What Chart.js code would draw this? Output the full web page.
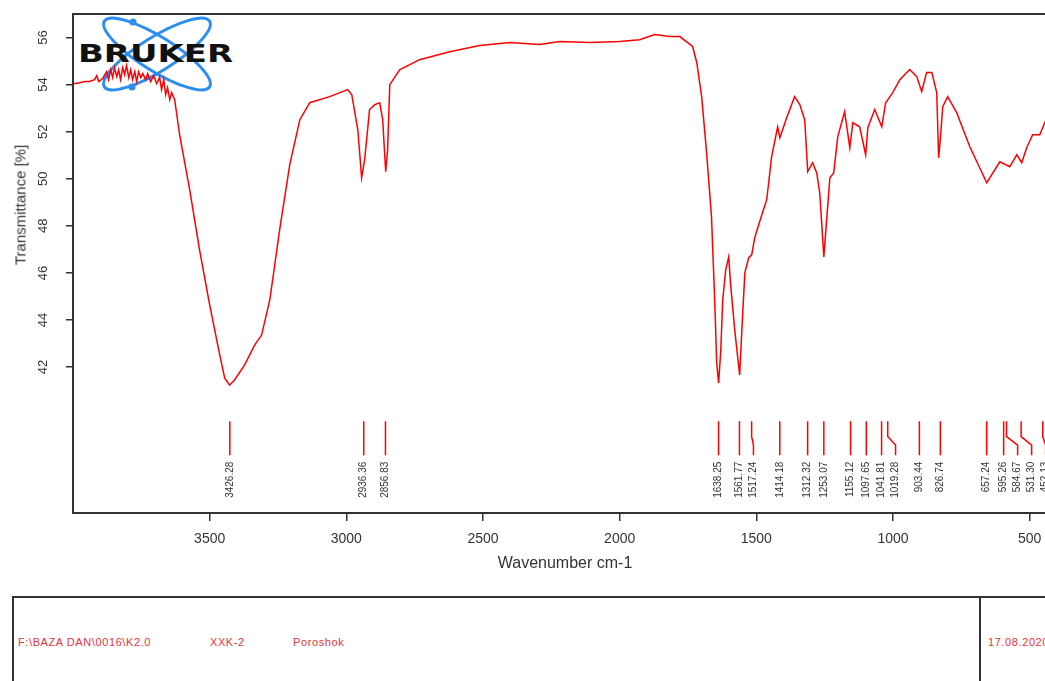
<!DOCTYPE html>
<html>
<head>
<meta charset="utf-8">
<script src="https://cdn.jsdelivr.net/npm/chart.js@4.4.1/dist/chart.umd.min.js"></script>
<style>
html, body { margin: 0; padding: 0; background: #fff; overflow: hidden; }
body { position: relative; width: 1045px; height: 681px; font-family: 'Liberation Sans', Arial, sans-serif; }
#logo { position: absolute; left: 0; top: 0; }
#wrap { position: absolute; left: 0; top: 0; width: 1160px; height: 590px; }
#ylabel { position: absolute; left: 20px; top: 205px; transform: translate(-50%, -50%) rotate(-90deg); white-space: nowrap; font-size: 15px; color: #333; }
#info { position: absolute; left: 12px; top: 596px; width: 1150px; height: 120px; border: 2px solid #333; box-sizing: border-box; }
#divider { position: absolute; left: 979px; top: 596px; height: 100px; border-left: 2px solid #333; }
.info-text { position: absolute; top: 636px; font-size: 11px; letter-spacing: 0.6px; color: #e8323c; white-space: nowrap; }
</style>
</head>
<body>
<svg id="logo" width="260" height="100">
  <g fill="none" stroke="#2b8ef0" stroke-width="3">
    <ellipse cx="157" cy="54" rx="62" ry="17" transform="rotate(32 157 54)"></ellipse>
    <ellipse cx="157" cy="54" rx="62" ry="17" transform="rotate(-32 157 54)"></ellipse>
  </g>
  <g fill="#2b8ef0">
    <circle cx="133" cy="22" r="3.5"></circle>
    <circle cx="132" cy="87" r="3.5"></circle>
  </g>
  <text x="78" y="62" font-family="DejaVu Sans" font-weight="bold" font-size="24" textLength="155" lengthAdjust="spacingAndGlyphs" fill="#111">BRUKER</text>
</svg>
<div id="wrap"><canvas id="chart" width="1160" height="590"></canvas></div>
<div id="ylabel">Transmittance [%]</div>
<div id="info"></div>
<div id="divider"></div>
<span class="info-text" style="left:18px">F:\BAZA DAN\0016\K2.0</span>
<span class="info-text" style="left:210px">XXK-2</span>
<span class="info-text" style="left:293px">Poroshok</span>
<span class="info-text" style="left:988px">17.08.2020</span>
<script>
// spectrum (wavenumber cm-1 / transmittance %)
const wavenumbers = [
  3998, 3976, 3957, 3939, 3921, 3913, 3906, 3892, 3877, 3870, 3862, 3855, 3848, 3840, 3833, 3826,
  3818, 3811, 3804, 3796, 3789, 3782, 3774, 3767, 3760, 3752, 3745, 3734, 3727, 3716, 3705, 3694,
  3683, 3676, 3668, 3661, 3654, 3646, 3639, 3628, 3610, 3573, 3537, 3500, 3463, 3445, 3427, 3409,
  3372, 3335, 3310, 3280, 3244, 3207, 3170, 3134, 3061, 2995, 2980, 2958, 2944, 2933, 2915, 2896,
  2878, 2867, 2856, 2849, 2841, 2805, 2732, 2622, 2512, 2402, 2293, 2219, 2110, 2000, 1927, 1872,
  1817, 1780, 1733, 1718, 1700, 1682, 1664, 1652, 1645, 1638, 1630, 1623, 1612, 1601, 1594, 1579,
  1561, 1553, 1542, 1528, 1517, 1506, 1488, 1462, 1444, 1422, 1414, 1389, 1360, 1341, 1323, 1312,
  1294, 1279, 1268, 1253, 1231, 1217, 1202, 1177, 1158, 1147, 1122, 1100, 1092, 1067, 1041, 1027,
  1001, 975, 939, 913, 895, 877, 858, 840, 833, 825, 818, 800, 767, 719, 657, 609,
  573, 547, 529, 511, 489, 463, 445, 420, 400
];
const transmittance = [
  54.04, 54.08, 54.13, 54.13, 54.21, 54.38, 54.13, 54.25, 54.55, 54.21, 54.63, 54.30, 54.72, 54.34, 54.63, 54.21,
  54.72, 54.42, 54.81, 54.30, 54.63, 54.21, 54.55, 54.13, 54.55, 54.30, 54.47, 54.21, 54.47, 54.13, 54.38, 54.04,
  54.30, 53.79, 54.21, 53.57, 53.87, 53.36, 53.66, 53.36, 51.87, 49.53, 46.98, 44.64, 42.51, 41.53, 41.23, 41.45,
  42.09, 42.94, 43.36, 44.85, 47.83, 50.60, 52.51, 53.23, 53.49, 53.79, 53.57, 52.08, 50.04, 50.81, 52.94, 53.15,
  53.23, 52.51, 50.30, 51.23, 54.00, 54.63, 55.06, 55.40, 55.66, 55.79, 55.70, 55.83, 55.79, 55.83, 55.91, 56.13,
  56.04, 56.04, 55.62, 54.94, 53.49, 51.11, 48.38, 44.72, 42.17, 41.32, 42.72, 44.85, 46.13, 46.68, 45.49, 43.57,
  41.66, 43.57, 46.00, 46.64, 46.77, 47.49, 48.17, 49.11, 50.94, 52.21, 51.74, 52.59, 53.49, 53.15, 52.51, 50.30,
  50.68, 50.25, 49.40, 46.68, 50.04, 50.25, 51.79, 52.85, 51.32, 52.38, 52.21, 51.02, 52.17, 52.94, 52.21, 53.23,
  53.66, 54.21, 54.64, 54.34, 53.70, 54.51, 54.51, 53.66, 50.89, 51.96, 53.06, 53.49, 52.81, 51.36, 49.83, 50.72,
  50.51, 51.02, 50.68, 51.32, 51.87, 51.87, 52.38, 52.90, 53.20
];
// picked peaks (cm-1)
const peakPositions = [
  3426.28, 2936.36, 2856.83, 1638.25, 1561.77, 1517.24, 1414.18, 1312.32, 1253.07, 1155.12,
  1097.65, 1041.81, 1019.28, 903.44, 826.74, 657.24, 595.26, 584.67, 531.30, 452.13
];
const xTickValues = [3500, 3000, 2500, 2000, 1500, 1000, 500];
const yTickValues = [42, 44, 46, 48, 50, 52, 54, 56];

const tickFont = { family: "'Liberation Sans', Arial, sans-serif", size: 14 };

// black frame round the plot area
const framePlugin = {
  id: 'frame',
  afterDraw(chart) {
    const { ctx, chartArea: a } = chart;
    ctx.save();
    ctx.strokeStyle = '#333';
    ctx.lineWidth = 2;
    ctx.strokeRect(a.left, a.top, a.right - a.left, a.bottom - a.top);
    ctx.restore();
  }
};

// red peak ticks with rotated labels under the spectrum
const peakPlugin = {
  id: 'peaks',
  afterDatasetsDraw(chart) {
    const { ctx } = chart;
    const xs = chart.scales.x, ys = chart.scales.y;
    const yTop = ys.getPixelForValue(39.7);
    const yBot = ys.getPixelForValue(38.25);
    const yLabel = ys.getPixelForValue(37.98);
    const yKink1 = yTop + (yBot - yTop) * 0.45;
    const yKink2 = yTop + (yBot - yTop) * 0.7;
    const minGap = 14;

    // left to right on screen
    const items = peakPositions.map(p => ({ p, x: xs.getPixelForValue(p) })).sort((a, b) => a.x - b.x);
    let last = -Infinity;
    items.forEach(it => {
      it.lx = Math.max(it.x, last + minGap);
      last = it.lx;
    });

    ctx.save();
    ctx.strokeStyle = '#ff0000';
    ctx.lineWidth = 1.5;
    items.forEach(it => {
      ctx.beginPath();
      ctx.moveTo(it.x, yTop);
      if (Math.abs(it.lx - it.x) > 0.5) {
        ctx.lineTo(it.x, yKink1);
        ctx.lineTo(it.lx, yKink2);
      }
      ctx.lineTo(it.lx, yBot);
      ctx.stroke();
    });
    ctx.fillStyle = '#333';
    ctx.font = "10px 'Liberation Sans', Arial, sans-serif";
    ctx.textAlign = 'right';
    ctx.textBaseline = 'middle';
    items.forEach(it => {
      ctx.save();
      ctx.translate(it.lx, yLabel);
      ctx.rotate(-Math.PI / 2);
      ctx.fillText(it.p.toFixed(2), 0, 0);
      ctx.restore();
    });
    ctx.restore();
  }
};

new Chart(document.getElementById('chart'), {
  type: 'line',
  data: {
    datasets: [{
      data: wavenumbers.map((w, i) => ({ x: w, y: transmittance[i] })),
      borderColor: '#ff0000',
      borderWidth: 1.5,
      pointRadius: 0,
      tension: 0,
      fill: false
    }]
  },
  options: {
    responsive: false,
    animation: false,
    events: [],
    layout: { padding: { top: 14, right: 103, left: 0, bottom: 0 } },
    plugins: { legend: { display: false }, tooltip: { enabled: false } },
    scales: {
      x: {
        type: 'linear',
        reverse: true,
        min: 400,
        max: 4000,
        afterBuildTicks: s => { s.ticks = xTickValues.map(v => ({ value: v })); },
        afterFit: s => { s.height = 77; s.paddingLeft = 0; s.paddingRight = 0; },
        ticks: { font: tickFont, color: '#333', padding: 10, maxRotation: 0, autoSkip: false, callback: v => String(v) },
        grid: { drawOnChartArea: false, drawTicks: true, tickLength: 8, color: '#333', lineWidth: 1.5 },
        border: { display: true, color: '#333', width: 2 },
        title: { display: true, text: 'Wavenumber cm-1', color: '#333', font: { family: "'Liberation Sans', Arial, sans-serif", size: 16 }, padding: { top: 0, bottom: 17 } }
      },
      y: {
        type: 'linear',
        min: 35.8,
        max: 57,
        afterBuildTicks: s => { s.ticks = yTickValues.map(v => ({ value: v })); },
        afterFit: s => { s.width = 73; s.paddingTop = 0; s.paddingBottom = 0; },
        ticks: { font: { family: tickFont.family, size: 13 }, color: '#333', padding: 15, minRotation: 90, maxRotation: 90, crossAlign: 'center', autoSkip: false, callback: v => String(v) },
        grid: { drawOnChartArea: false, drawTicks: true, tickLength: 7, color: '#333', lineWidth: 1.5 },
        border: { display: true, color: '#333', width: 2 }
      }
    }
  },
  plugins: [framePlugin, peakPlugin]
});
</script>
</body>
</html>
